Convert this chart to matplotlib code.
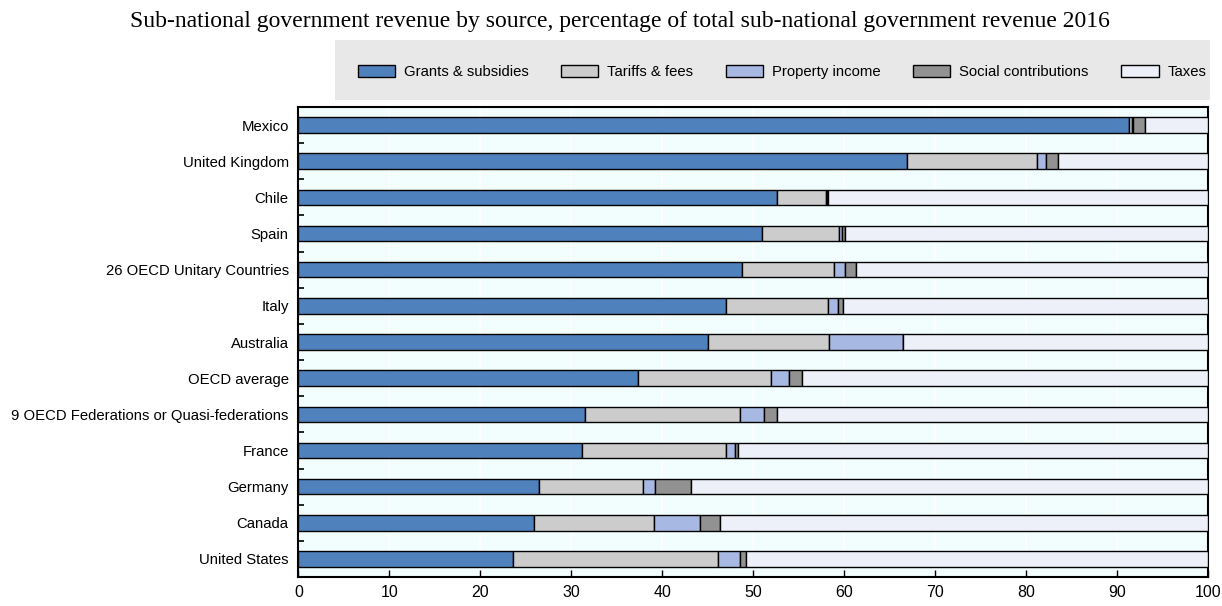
import matplotlib
matplotlib.use("Agg")
import matplotlib.pyplot as plt
from matplotlib.patches import Rectangle, Patch
import numpy as np

categories = ["Mexico", "United Kingdom", "Chile", "Spain", "26 OECD Unitary Countries",
              "Italy", "Australia", "OECD average", "9 OECD Federations or Quasi-federations",
              "France", "Germany", "Canada", "United States"]
grants = [91.4, 66.9, 52.6, 51.0, 48.8, 47.0, 45.0, 37.3, 31.5, 31.2, 26.5, 25.9, 23.6]
tariffs = [0.3, 14.3, 5.4, 8.5, 10.1, 11.3, 13.4, 14.7, 17.1, 15.8, 11.4, 13.2, 22.6]
property_income = [0.1, 1.0, 0.1, 0.3, 1.2, 1.0, 8.1, 2.0, 2.6, 1.0, 1.3, 5.1, 2.4]
social = [1.3, 1.4, 0.2, 0.3, 1.2, 0.6, 0.0, 1.4, 1.4, 0.4, 4.0, 2.2, 0.6]
taxes = [round(100 - g - t - p - s, 1) for g, t, p, s in zip(grants, tariffs, property_income, social)]
series_names = ["Grants & subsidies", "Tariffs & fees", "Property income", "Social contributions", "Taxes"]
colors = ["#4F81BD", "#CCCCCC", "#A7B9E3", "#929292", "#EDF0F8"]
xticks = [0, 10, 20, 30, 40, 50, 60, 70, 80, 90, 100]
title = "Sub-national government revenue by source, percentage of total sub-national government revenue 2016"

plt.rcParams['font.family'] = ['Liberation Sans', 'DejaVu Sans']

fig = plt.figure(figsize=(12.22, 6.06), dpi=100)
W, H = 1222, 606
ax = fig.add_axes([298.4 / W, 1 - 577 / H, (1207.6 - 298.4) / W, (577 - 107) / H])
ax.set_facecolor("#F2FEFE")

y = np.arange(len(categories))[::-1]
data = [grants, tariffs, property_income, social, taxes]
left = np.zeros(len(categories))
for vals, c, name in zip(data, colors, series_names):
    vals = np.array(vals)
    ax.barh(y, vals, left=left, height=0.43, color=c, edgecolor="black", linewidth=1.0,
            label=name, zorder=3)
    left += vals

ax.set_xlim(0, 100)
ax.set_ylim(-0.5, len(categories) - 0.5)
ax.set_xticks(xticks)
ax.set_xticklabels([str(v) for v in xticks], fontsize=11.5)
ax.set_yticks(y)
ax.set_yticklabels(categories, fontsize=10.7)
ax.tick_params(axis='y', length=0, pad=7)
ax.set_yticks(np.arange(len(categories) + 1) - 0.5, minor=True)
ax.tick_params(axis='y', which='minor', length=4, direction='in', width=1.2)
ax.tick_params(axis='x', direction='in', length=5, width=1.0, pad=6)
ax.xaxis.grid(True, color="white", linewidth=1.2, zorder=0)
ax.set_axisbelow(True)
for s in ax.spines.values():
    s.set_linewidth(1.5)
    s.set_color("black")

fig.text(0.5 * (122 + 1118) / W, 1 - 22 / H, title, ha='center', va='center', fontsize=17,
         family=['Liberation Serif', 'DejaVu Serif'])

# legend band
fig.patches.append(Rectangle((335 / W, 1 - 100 / H), (1210 - 335) / W, 60 / H,
                             transform=fig.transFigure, facecolor="#E8E8E8", edgecolor="none", zorder=0))
handles = [Patch(facecolor=c, edgecolor="black", linewidth=1.0) for c in colors]
leg = fig.legend(handles, series_names, loc='center', bbox_to_anchor=(782 / W, 1 - 72 / H),
                 ncol=5, frameon=False, fontsize=10.7, handlelength=2.5, handleheight=0.8,
                 columnspacing=2.2, handletextpad=0.6)

fig.savefig("out.png", dpi=100)
